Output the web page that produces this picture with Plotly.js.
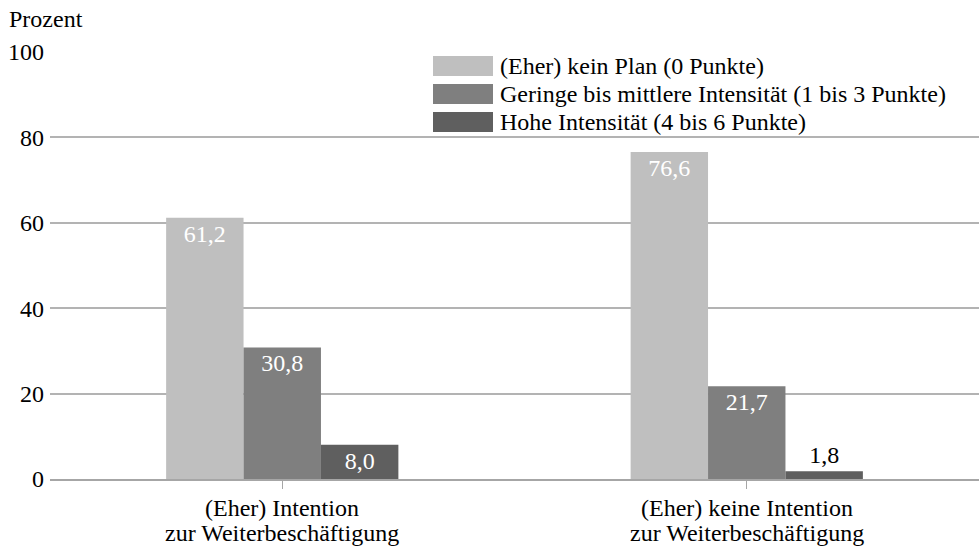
<!DOCTYPE html>
<html>
<head>
<meta charset="utf-8">
<script src="https://cdn.plot.ly/plotly-3.0.1.min.js"></script>
</head>
<body style="margin:0;background:#fff">
<div id="chart" style="width:979px;height:547px"></div>
<script>
var categories = ["(Eher) Intention<br>zur Weiterbeschäftigung", "(Eher) keine Intention<br>zur Weiterbeschäftigung"];
var seriesNames = ["(Eher) kein Plan (0 Punkte)", "Geringe bis mittlere Intensität (1 bis 3 Punkte)", "Hohe Intensität (4 bis 6 Punkte)"];
var keinPlan = [61.2, 76.6];
var geringeMittlere = [30.8, 21.7];
var hohe = [8.0, 1.8];
var seriesColors = ["#bfbfbf", "#7f7f7f", "#5f5f5f"];
var yTicks = [0, 20, 40, 60, 80, 100];

var FONT = "Liberation Serif, Times New Roman, serif";
var values = [keinPlan, geringeMittlere, hohe];
var positions = [["inside", "inside"], ["inside", "inside"], ["inside", "outside"]];

var traces = values.map(function (v, i) {
  return {
    type: "bar",
    name: seriesNames[i],
    x: categories,
    y: v,
    marker: {color: seriesColors[i], line: {width: 0}},
    text: v.map(function (d) { return d.toFixed(1).replace(".", ","); }),
    textposition: positions[i],
    insidetextanchor: "end",
    textangle: 0,
    insidetextfont: {family: FONT, size: 24, color: "#ffffff"},
    outsidetextfont: {family: FONT, size: 24, color: "#000000"},
    cliponaxis: false,
    hoverinfo: "skip",
    showlegend: false
  };
});

var plotTop = 52, plotBottom = 479, plotLeft = 50, plotW = 929;
function py(p) { return (plotBottom - p) / (plotBottom - plotTop); }
function px(p) { return (p - plotLeft) / plotW; }
var shapes = [], annotations = [];

// custom legend (large swatches like the reference)
var rowY = [66, 94, 122];
seriesNames.forEach(function (n, i) {
  shapes.push({type: "rect", xref: "paper", yref: "paper",
    x0: px(433), x1: px(493), y0: py(rowY[i] + 10), y1: py(rowY[i] - 10),
    fillcolor: seriesColors[i], line: {width: 0}, layer: "above"});
  annotations.push({xref: "paper", yref: "paper", x: px(498), y: py(rowY[i]),
    xanchor: "left", yanchor: "middle", showarrow: false, text: n,
    font: {family: FONT, size: 24, color: "#000"}});
});

// category labels with tight line spacing
categories.forEach(function (c) {
  c.split("<br>").forEach(function (line, j) {
    annotations.push({xref: "x", yref: "paper", x: c, y: 0, yanchor: "middle",
      yshift: -29 - 25 * j, showarrow: false, text: line,
      font: {family: FONT, size: 24, color: "#000"}});
  });
});

annotations.push({xref: "paper", yref: "paper", x: 0, y: 1, xshift: -43, yshift: 18,
  xanchor: "left", yanchor: "bottom", showarrow: false, text: "Prozent",
  font: {family: FONT, size: 24, color: "#000"}});

var layout = {
  width: 979, height: 547,
  margin: {l: 50, r: 0, t: 52, b: 68, pad: 0},
  paper_bgcolor: "#fff", plot_bgcolor: "#fff",
  font: {family: FONT, size: 24, color: "#000"},
  separators: ",.",
  barmode: "group", bargap: 0.5, bargroupgap: 0,
  showlegend: false,
  xaxis: {
    type: "category", showgrid: false, zeroline: false,
    showline: true, linecolor: "#a6a6a6", linewidth: 2,
    ticks: "outside", ticklen: 8, tickwidth: 1, tickcolor: "#a6a6a6",
    showticklabels: false, fixedrange: true
  },
  yaxis: {
    range: [0, 100], tickvals: yTicks, ticktext: yTicks.map(String),
    showgrid: true, gridcolor: "#b3b3b3", gridwidth: 2, zeroline: false,
    showline: false, ticks: "", ticklabelstandoff: 5,
    tickfont: {family: FONT, size: 24, color: "#000"}, fixedrange: true
  },
  shapes: shapes,
  annotations: annotations
};

Plotly.newPlot("chart", traces, layout, {displayModeBar: false});
</script>
</body>
</html>
